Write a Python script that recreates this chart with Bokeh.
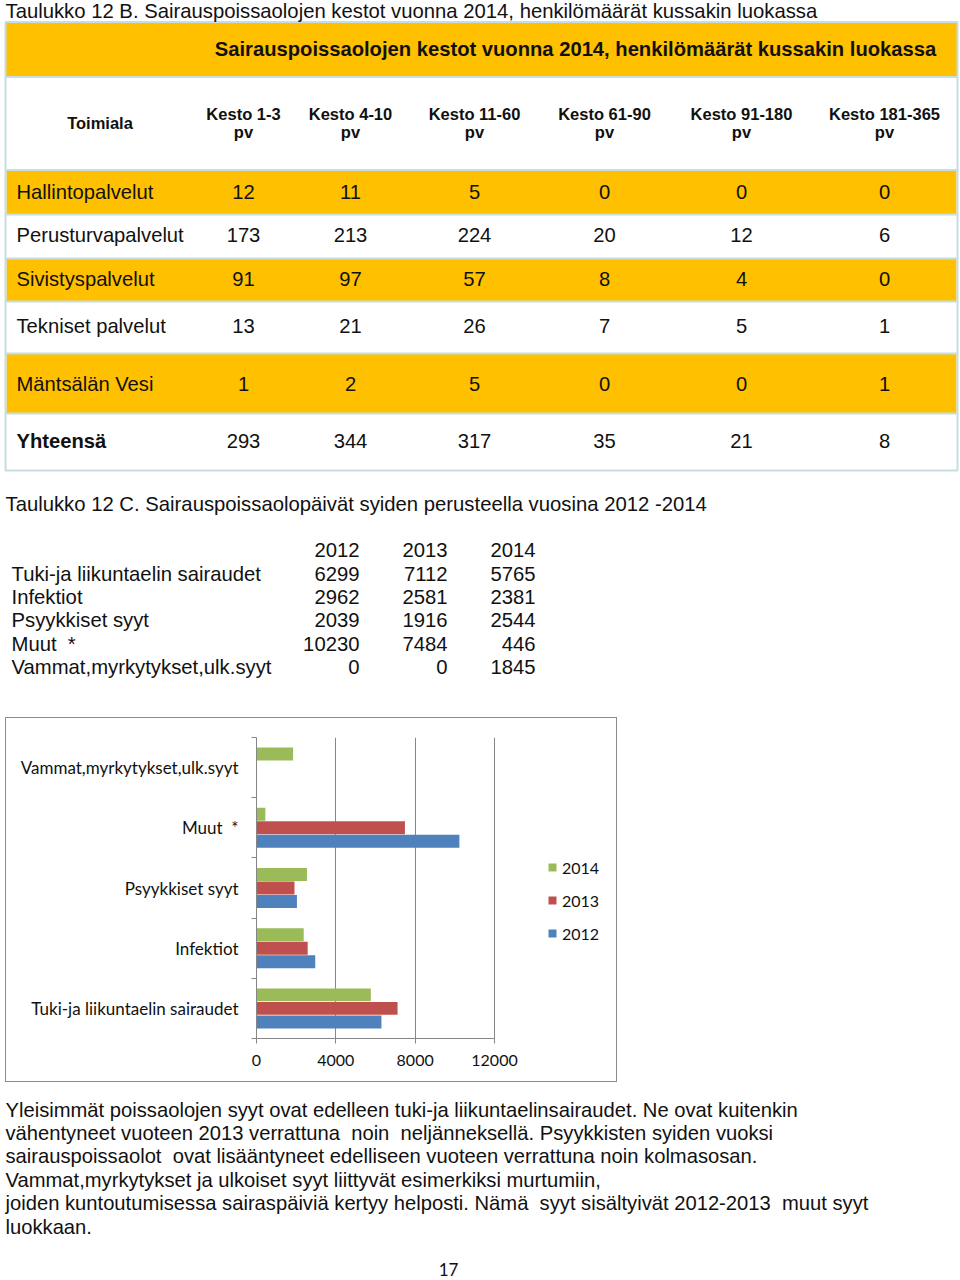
from bokeh.plotting import figure
from bokeh.layouts import column, row
from bokeh.models import Range1d, FixedTicker, Legend, LegendItem, ColumnDataSource, Spacer
from bokeh.core.properties import value
from bokeh.transform import dodge
from bokeh.embed import file_html
from bokeh.resources import INLINE

# ---------------- data ----------------
title_12b = "Taulukko 12 B. Sairauspoissaolojen kestot vuonna 2014, henkilömäärät kussakin luokassa"
header_12b = "Sairauspoissaolojen kestot vuonna 2014, henkilömäärät kussakin luokassa"
first_col_label = "Toimiala"
kesto_labels = ["Kesto 1-3", "Kesto 4-10", "Kesto 11-60", "Kesto 61-90", "Kesto 91-180", "Kesto 181-365"]
kesto_unit = "pv"
toimialat = ["Hallintopalvelut", "Perusturvapalvelut", "Sivistyspalvelut",
             "Tekniset palvelut", "Mäntsälän Vesi", "Yhteensä"]
k_1_3 = [12, 173, 91, 13, 1, 293]
k_4_10 = [11, 213, 97, 21, 2, 344]
k_11_60 = [5, 224, 57, 26, 5, 317]
k_61_90 = [0, 20, 8, 7, 0, 35]
k_91_180 = [0, 12, 4, 5, 0, 21]
k_181_365 = [0, 6, 0, 1, 1, 8]

title_12c = "Taulukko 12 C. Sairauspoissaolopäivät syiden perusteella vuosina 2012 -2014"
syyt = ["Tuki-ja liikuntaelin sairaudet", "Infektiot", "Psyykkiset syyt", "Muut  *",
        "Vammat,myrkytykset,ulk.syyt"]
vuodet = ["2012", "2013", "2014"]
v2012 = [6299, 2962, 2039, 10230, 0]
v2013 = [7112, 2581, 1916, 7484, 0]
v2014 = [5765, 2381, 2544, 446, 1845]
x_ticks = [0, 4000, 8000, 12000]

paragraph = [
    "Yleisimmät poissaolojen syyt ovat edelleen tuki-ja liikuntaelinsairaudet. Ne ovat kuitenkin",
    "vähentyneet vuoteen 2013 verrattuna  noin  neljänneksellä. Psyykkisten syiden vuoksi",
    "sairauspoissaolot  ovat lisääntyneet edelliseen vuoteen verrattuna noin kolmasosan.",
    "Vammat,myrkytykset ja ulkoiset syyt liittyvät esimerkiksi murtumiin,",
    "joiden kuntoutumisessa sairaspäiviä kertyy helposti. Nämä  syyt sisältyivät 2012-2013  muut syyt",
    "luokkaan.",
]
page_number = "17"

# ---------------- styles ----------------
ARIAL = "Liberation Sans"
CAL = "Lato"
TEXT = "#111111"
ORANGE = "#FFC000"
RULE = "#c6dde1"
GRAY = "#868686"
C2012, C2013, C2014 = "#4F81BD", "#C0504D", "#9BBB59"
BASE_SHIFT = 0.39   # renderer baseline correction (fraction of font size)


def keep_spaces(s):
    # keep double spaces visible in SVG text
    return s.replace("  ", " \u00a0")


def page_fig(w, h, xr, yr):
    p = figure(width=w, height=h, x_range=Range1d(*xr), y_range=Range1d(*yr),
               output_backend="svg", toolbar_location=None,
               x_axis_location=None, y_axis_location=None, min_border=0)
    p.grid.visible = False
    p.outline_line_color = None
    return p


def txt(p, xs, ys, texts, size, align="left", bold=False, font=ARIAL, color=TEXT):
    src = ColumnDataSource(dict(x=list(xs), y=[y - BASE_SHIFT * size for y in ys],
                                t=[keep_spaces(t) for t in texts]))
    p.text(x="x", y="y", text="t", source=src, text_font=value(font),
           text_font_size=value(f"{size}px"), text_align=align,
           text_baseline="alphabetic", text_color=color,
           text_font_style="bold" if bold else "normal")


PAGE_W = 960
TOP_H = 717
# ---------------- top part: tables ----------------
top = page_fig(PAGE_W, TOP_H, (0, PAGE_W), (TOP_H, 0))

row_top = [170, 214, 258, 301, 353, 413]
row_bot = [214, 258, 301, 353, 413, 470]
orange_rows = [0, 2, 4]
top.quad(left=[5], right=[957], top=[22], bottom=[76.5], fill_color=ORANGE, line_color=None)
top.quad(left=[6] * len(orange_rows), right=[956] * len(orange_rows),
         top=[row_top[i] for i in orange_rows], bottom=[row_bot[i] for i in orange_rows],
         fill_color=ORANGE, line_color=None)
rules = [76.5, 169.5] + row_bot[:-1]
top.segment(x0=[5] * len(rules), x1=[957] * len(rules), y0=rules, y1=rules,
            line_color=RULE, line_width=2)
top.quad(left=[5], right=[957], top=[21.5], bottom=[470], fill_color=None,
         line_color=RULE, line_width=2)

txt(top, [5], [18], [title_12b], 20.3)
txt(top, [575], [56.5], [header_12b], 20.2, align="center", bold=True)
col_x = [243, 350, 474, 604, 741, 884]
txt(top, [99.5], [129], [first_col_label], 16.5, align="center", bold=True)
txt(top, col_x, [119.5] * len(col_x), kesto_labels, 16.5, align="center", bold=True)
txt(top, col_x, [138] * len(col_x), [kesto_unit] * len(col_x), 16.5, align="center", bold=True)

row_base = [199, 242.5, 286, 333, 391, 448.5]
txt(top, [16] * 5, row_base[:5], toimialat[:5], 20.2)
txt(top, [16], row_base[5:], toimialat[5:], 20.2, bold=True)
for j, col in enumerate([k_1_3, k_4_10, k_11_60, k_61_90, k_91_180, k_181_365]):
    txt(top, [col_x[j]] * len(col), row_base, [str(v) for v in col], 20.2, align="center")

# table 12C
txt(top, [5], [511], [title_12c], 20.3)
yr_x = [359, 447, 535]
txt(top, yr_x, [557] * 3, vuodet, 20.3, align="right")
c_base = [581 + 23.4 * i for i in range(len(syyt))]
txt(top, [11] * len(syyt), c_base, syyt, 20.3)
for j, col in enumerate([v2012, v2013, v2014]):
    txt(top, [yr_x[j]] * len(col), c_base, [str(v) for v in col], 20.3, align="right")

# ---------------- chart ----------------
CW, CH = 612, 365            # content size inside the 1px box border
FRAME_L, FRAME_R, FRAME_T, FRAME_B = 250, 8, 19, 45
frame_w = CW - FRAME_L - FRAME_R
frame_h = CH - FRAME_T - FRAME_B
px_per_max = 238             # pixels covered by 0..max tick
x_end = x_ticks[-1] * frame_w / px_per_max

ch = figure(width=CW, height=CH, x_range=Range1d(0, x_end), y_range=Range1d(0, len(syyt)),
            output_backend="svg", toolbar_location=None,
            min_border_left=FRAME_L, min_border_right=FRAME_R,
            min_border_top=FRAME_T, min_border_bottom=FRAME_B)
ch.styles = {"border": "1px solid #8c8c8c"}
ch.outline_line_color = None
ch.ygrid.visible = False

ys = [i + 0.5 for i in range(len(syyt))]
src = ColumnDataSource(dict(y=ys, v2012=v2012, v2013=v2013, v2014=v2014))
BH = 0.215
r14 = ch.hbar(y=dodge("y", 0.225), right="v2014", left=0, height=BH, source=src,
              fill_color=C2014, line_color=None)
r13 = ch.hbar(y=dodge("y", 0.0), right="v2013", left=0, height=BH, source=src,
              fill_color=C2013, line_color=None)
r12 = ch.hbar(y=dodge("y", -0.225), right="v2012", left=0, height=BH, source=src,
              fill_color=C2012, line_color=None)

xt = FixedTicker(ticks=x_ticks)
xax = ch.xaxis[0]
xax.ticker = xt
xax.bounds = (x_ticks[0], x_ticks[-1])
xax.axis_line_color = GRAY
xax.major_tick_line_color = GRAY
xax.major_tick_out = 5
xax.major_tick_in = 0
xax.minor_tick_line_color = None
xax.major_label_standoff = 11
xax.major_label_text_font = CAL
xax.major_label_text_font_size = "16px"
xax.major_label_text_color = TEXT
ch.xgrid.ticker = xt
ch.xgrid.grid_line_color = GRAY
ch.xgrid.bounds = (x_ticks[0], x_ticks[-1])

yax = ch.yaxis[0]
yax.ticker = FixedTicker(ticks=ys, minor_ticks=list(range(len(syyt) + 1)))
yax.major_label_overrides = {y: keep_spaces(s) for y, s in zip(ys, syyt)}
yax.axis_line_color = GRAY
yax.major_tick_out = 0
yax.major_tick_in = 0
yax.minor_tick_out = 5
yax.minor_tick_in = 0
yax.minor_tick_line_color = GRAY
yax.major_label_standoff = 13
yax.major_label_text_font = CAL
yax.major_label_text_font_size = "17px"
yax.major_label_text_color = TEXT

LEG_ITEM_H, LEG_SP = 20, 13
leg_h = 3 * LEG_ITEM_H + 2 * LEG_SP
leg_top_from_frame_top = 120
legend = Legend(items=[LegendItem(label=vuodet[2], renderers=[r14]),
                       LegendItem(label=vuodet[1], renderers=[r13]),
                       LegendItem(label=vuodet[0], renderers=[r12])],
                location=(291, frame_h - leg_top_from_frame_top - leg_h),
                orientation="vertical", glyph_width=10, glyph_height=10,
                label_standoff=5, spacing=LEG_SP, label_height=LEG_ITEM_H,
                padding=0, margin=0, border_line_color=None,
                background_fill_alpha=0, label_text_font=CAL,
                label_text_font_size="16px", label_text_color=TEXT)
ch.add_layout(legend)

# ---------------- bottom text ----------------
BOT_Y0 = TOP_H + CH + 2
BOT_H = 1280 - BOT_Y0
bot = page_fig(PAGE_W, BOT_H, (0, PAGE_W), (1280, BOT_Y0))
txt(bot, [5] * len(paragraph), [1117 + 23.4 * i for i in range(len(paragraph))], paragraph, 20.2)
txt(bot, [448], [1275.5], [page_number], 17, align="center", font=CAL)

layout = column(top, row(Spacer(width=5, height=CH + 2), ch, spacing=0), bot, spacing=0)
open("out.html", "w").write(file_html(layout, INLINE))
